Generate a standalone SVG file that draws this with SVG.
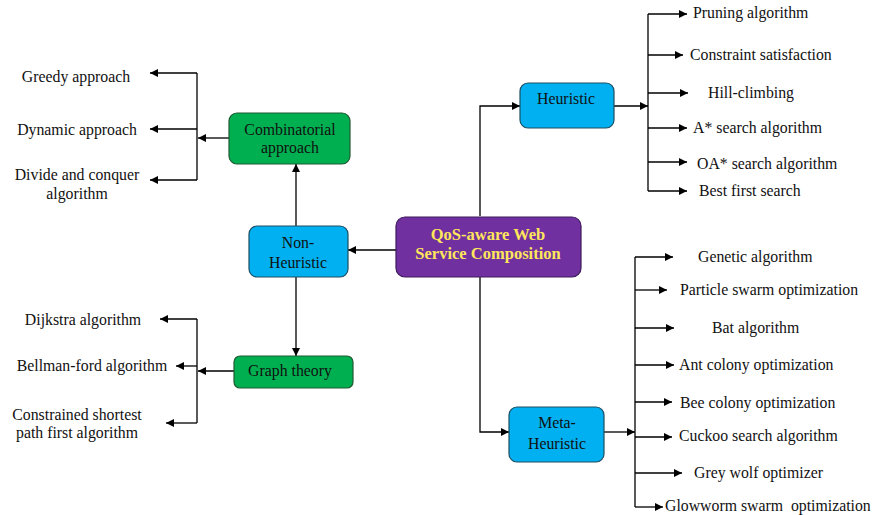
<svg xmlns="http://www.w3.org/2000/svg" width="872" height="515" viewBox="0 0 872 515">
  <style>
    .lbl { font-family: "Liberation Serif", "Times New Roman", serif; font-size: 15.8px; fill: #111; }
    .box { stroke-width: 1.2; }
    .blue { fill: #00B0F0; stroke: #1D4E63; }
    .green { fill: #00B050; stroke: #1E5A33; }
    .purple { fill: #7030A0; stroke: #3E1A5C; }
    .title { font-family: "Liberation Serif", "Times New Roman", serif; font-size: 16.5px; font-weight: bold; fill: #FFE65A; }
    .wire { fill: none; stroke: #000; stroke-width: 1.3; }
    .arr { fill: none; stroke: #000; stroke-width: 1.3; marker-end: url(#head); }
  </style>
  <defs>
    <marker id="head" viewBox="0 0 10 10" refX="10" refY="5" markerWidth="8" markerHeight="8" markerUnits="userSpaceOnUse" orient="auto">
      <path d="M0,0 L10,5 L0,10 z" fill="#000"/>
    </marker>
  </defs>
  <rect width="872" height="515" fill="#fff"/>

  <g id="connectors">
    <!-- root to Non-Heuristic -->
    <path class="arr" d="M396,250 H348"/>
    <!-- Non-Heuristic to Combinatorial approach and Graph theory -->
    <path class="arr" d="M296,226 V164"/>
    <path class="arr" d="M296,277 V356"/>
    <!-- Combinatorial approach fan-out -->
    <path class="arr" d="M229,138 H198"/>
    <path class="wire" d="M197,73 V180"/>
    <path class="arr" d="M197,73 H150"/>
    <path class="arr" d="M197,129 H150"/>
    <path class="arr" d="M197,180 H150"/>
    <!-- Graph theory fan-out -->
    <path class="arr" d="M234,371 H198"/>
    <path class="wire" d="M197,319 V423"/>
    <path class="arr" d="M197,319 H160"/>
    <path class="arr" d="M197,366 H176"/>
    <path class="arr" d="M197,423 H166"/>
    <!-- root to Heuristic -->
    <path class="arr" d="M480,216 V106 H520"/>
    <!-- Heuristic fan-out -->
    <path class="arr" d="M614,106 H648"/>
    <path class="wire" d="M648,14 V191"/>
    <path class="arr" d="M648,14 H687"/>
    <path class="arr" d="M648,55 H683"/>
    <path class="arr" d="M648,93 H688"/>
    <path class="arr" d="M648,128 H687"/>
    <path class="arr" d="M648,162 H687"/>
    <path class="arr" d="M648,191 H687"/>
    <!-- root to Meta-Heuristic -->
    <path class="arr" d="M480,277 V432 H509"/>
    <!-- Meta-Heuristic fan-out -->
    <path class="arr" d="M604,432 H635"/>
    <path class="wire" d="M635,257 V507"/>
    <path class="arr" d="M635,257 H673"/>
    <path class="arr" d="M635,290 H667"/>
    <path class="arr" d="M635,328 H674"/>
    <path class="arr" d="M635,365 H674"/>
    <path class="arr" d="M635,402 H672"/>
    <path class="arr" d="M635,437 H672"/>
    <path class="arr" d="M635,473 H682"/>
    <path class="arr" d="M635,507 H663"/>
  </g>

  <g id="root">
    <rect class="box purple" x="396" y="217" width="185" height="60" rx="9"/>
    <text class="title" x="488" y="240" text-anchor="middle">QoS-aware Web</text>
    <text class="title" x="488" y="259" text-anchor="middle">Service Composition</text>
  </g>

  <g id="non-heuristic">
    <rect class="box blue" x="249" y="226" width="99" height="51" rx="8"/>
    <text class="lbl" x="298" y="248" text-anchor="middle">Non-</text>
    <text class="lbl" x="298" y="268" text-anchor="middle">Heuristic</text>
  </g>

  <g id="combinatorial">
    <rect class="box green" x="229" y="113" width="121" height="51" rx="8"/>
    <text class="lbl" x="290" y="135" text-anchor="middle">Combinatorial</text>
    <text class="lbl" x="290" y="153" text-anchor="middle">approach</text>
  </g>

  <g id="graph-theory">
    <rect class="box green" x="234" y="356" width="119" height="32" rx="6"/>
    <text class="lbl" x="290" y="376" text-anchor="middle">Graph theory</text>
  </g>

  <g id="heuristic">
    <rect class="box blue" x="520" y="83" width="94" height="45" rx="8"/>
    <text class="lbl" x="566" y="104" text-anchor="middle">Heuristic</text>
  </g>

  <g id="meta-heuristic">
    <rect class="box blue" x="509" y="407" width="95" height="55" rx="8"/>
    <text class="lbl" x="557" y="428" text-anchor="middle">Meta-</text>
    <text class="lbl" x="557" y="449" text-anchor="middle">Heuristic</text>
  </g>

  <g id="combinatorial-items">
    <text class="lbl" x="76" y="82" text-anchor="middle">Greedy approach</text>
    <text class="lbl" x="77" y="135" text-anchor="middle">Dynamic approach</text>
    <text class="lbl" x="77" y="180" text-anchor="middle">Divide and conquer</text>
    <text class="lbl" x="77" y="199" text-anchor="middle">algorithm</text>
  </g>

  <g id="graph-items">
    <text class="lbl" x="83" y="325" text-anchor="middle">Dijkstra algorithm</text>
    <text class="lbl" x="92" y="371" text-anchor="middle">Bellman-ford algorithm</text>
    <text class="lbl" x="77" y="420" text-anchor="middle">Constrained shortest</text>
    <text class="lbl" x="77" y="438" text-anchor="middle">path first algorithm</text>
  </g>

  <g id="heuristic-items">
    <text class="lbl" x="693" y="18">Pruning algorithm</text>
    <text class="lbl" x="690" y="60">Constraint satisfaction</text>
    <text class="lbl" x="708" y="98">Hill-climbing</text>
    <text class="lbl" x="693" y="133">A* search algorithm</text>
    <text class="lbl" x="697" y="169">OA* search algorithm</text>
    <text class="lbl" x="699" y="196">Best first search</text>
  </g>

  <g id="meta-items">
    <text class="lbl" x="698" y="262">Genetic algorithm</text>
    <text class="lbl" x="680" y="295">Particle swarm optimization</text>
    <text class="lbl" x="712" y="333">Bat algorithm</text>
    <text class="lbl" x="679" y="370">Ant colony optimization</text>
    <text class="lbl" x="680" y="408">Bee colony optimization</text>
    <text class="lbl" x="679" y="441">Cuckoo search algorithm</text>
    <text class="lbl" x="694" y="478">Grey wolf optimizer</text>
    <text class="lbl" x="665" y="511" xml:space="preserve">Glowworm swarm  optimization</text>
  </g>
</svg>
